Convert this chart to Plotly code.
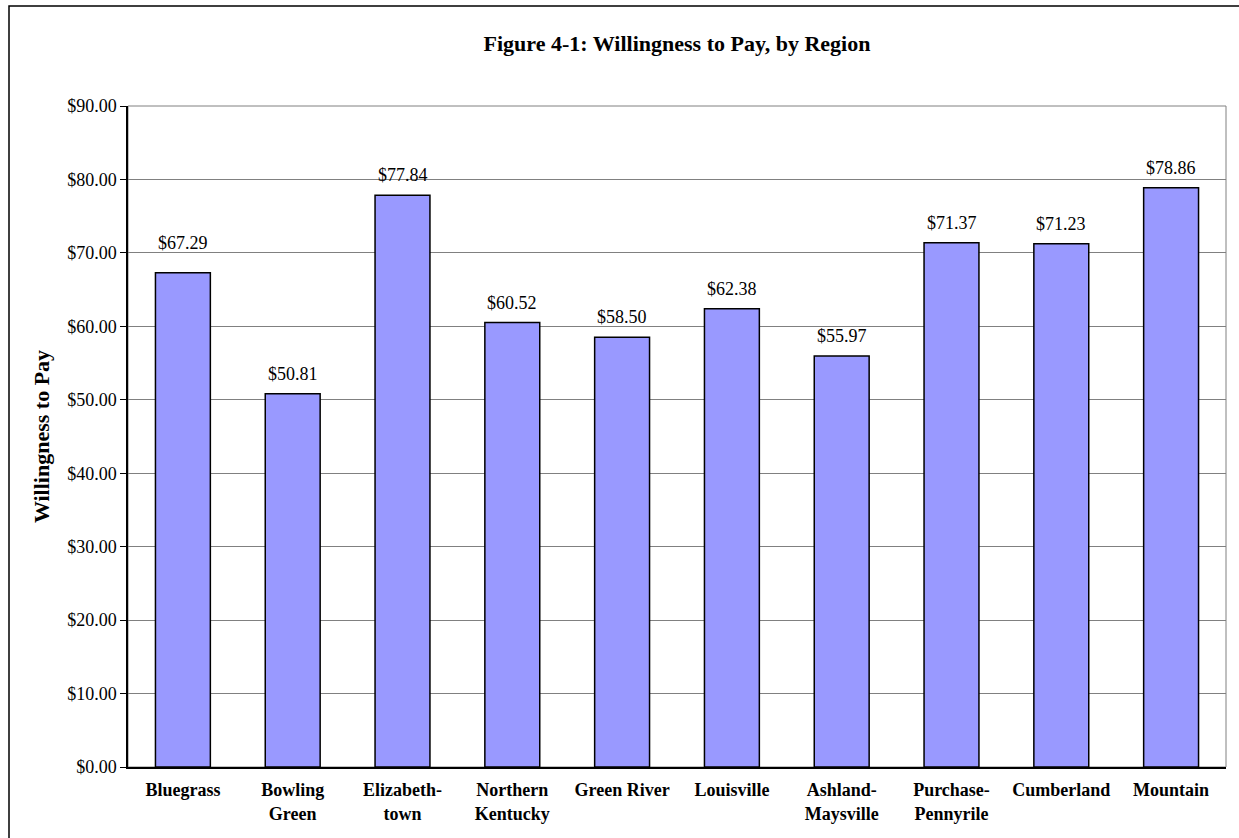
import plotly.graph_objects as go

categories = ["Bluegrass", "Bowling<br>Green", "Elizabeth-<br>town", "Northern<br>Kentucky",
              "Green River", "Louisville", "Ashland-<br>Maysville", "Purchase-<br>Pennyrile",
              "Cumberland", "Mountain"]
values = [67.29, 50.81, 77.84, 60.52, 58.50, 62.38, 55.97, 71.37, 71.23, 78.86]
labels = ["$%.2f" % v for v in values]

FONT = "Liberation Serif, Times New Roman, serif"

fig = go.Figure(go.Bar(
    x=categories, y=values,
    marker=dict(color="#9999FF", line=dict(color="black", width=1.5)),
    hoverinfo="x+y",
))

# value labels placed above bars (Bluegrass label sits a little higher in the original)
label_shift = {0: 30}
for i, (c, v, t) in enumerate(zip(categories, values, labels)):
    fig.add_annotation(x=c, y=v, text=t, showarrow=False, xanchor="center",
                       yanchor="middle", yshift=label_shift.get(i, 20),
                       font=dict(family=FONT, size=18, color="black"))

W, H = 1239, 838
L, R, T, B = 128, 13, 106, 71
pw, ph = W - L - R, H - T - B

fig.update_layout(
    width=W, height=H,
    margin=dict(l=L, r=R, t=T, b=B),
    paper_bgcolor="white", plot_bgcolor="white",
    bargap=0.5, showlegend=False,
    title=dict(text="<b>Figure 4-1: Willingness to Pay, by Region</b>",
               x=0.5, xanchor="center", xref="paper", y=1 - 43 / H, yanchor="middle",
               font=dict(family=FONT, size=22, color="black")),
    font=dict(family=FONT, color="black"),
    xaxis=dict(showline=True, linecolor="black", linewidth=1.5, ticks="",
               ticklabelstandoff=6,
               tickfont=dict(family=FONT, size=18, color="black"),
               tickvals=categories, ticktext=["<b>%s</b>" % c for c in categories]),
    yaxis=dict(range=[0, 90], dtick=10, tickformat="$.2f",
               showline=True, linecolor="black", linewidth=1.5,
               ticks="outside", ticklen=6, tickcolor="black",
               showgrid=True, gridcolor="#808080", gridwidth=1,
               tickfont=dict(family=FONT, size=18, color="black"),
               zeroline=False,
               title=dict(text="<b>Willingness to Pay</b>", standoff=11,
                          font=dict(family=FONT, size=22, color="black"))),
    shapes=[
        dict(type="rect", xref="paper", yref="paper", x0=0, x1=1, y0=0, y1=1,
             line=dict(color="#808080", width=1), layer="below"),
        dict(type="rect", xref="paper", yref="paper",
             x0=(9 - L) / pw, x1=(W + 20 - L) / pw,
             y0=-(B + 20) / ph, y1=(H - B - 6) / ph,
             line=dict(color="black", width=1.5)),
    ],
)

fig.write_html("out.html", config={"displayModeBar": False},
               post_script="document.body.style.margin='0';document.body.style.padding='0';")
